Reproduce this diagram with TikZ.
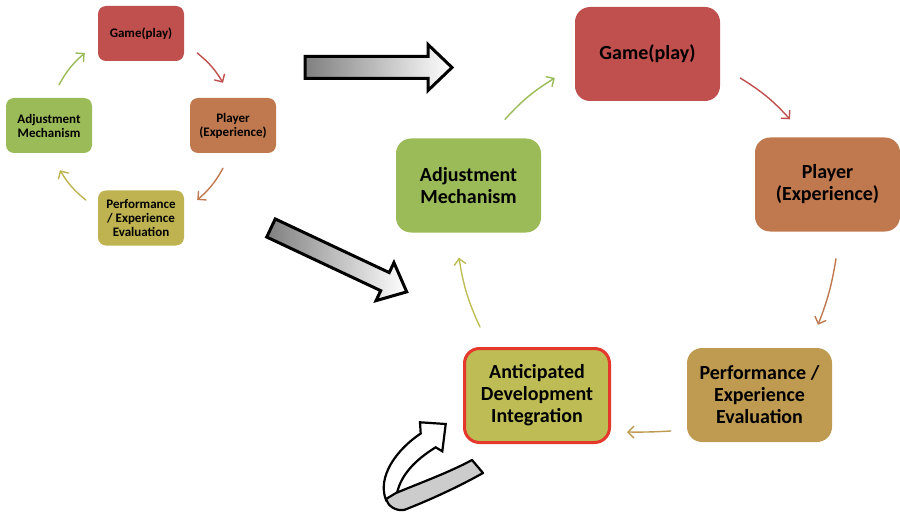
\documentclass[tikz,border=0pt]{standalone}
\usepackage{fontspec}
\setmainfont{Carlito}
\usetikzlibrary{arrows.meta}

\definecolor{cRed}{RGB}{192,80,77}
\definecolor{cOrange}{RGB}{192,121,79}
\definecolor{cGreen}{RGB}{155,187,89}
\definecolor{cOlive}{RGB}{190,179,80}
\definecolor{cGold}{RGB}{191,155,82}
\definecolor{cYellow}{RGB}{190,189,85}
\definecolor{cBorder}{RGB}{228,56,44}

\begin{document}
\begin{tikzpicture}[x=1pt,y=-1pt,
  smallbox/.style={rounded corners=8pt, minimum width=86pt, minimum height=55pt,
    align=center, inner sep=0pt, text=black,
    font=\bfseries\fontsize{13}{14}\selectfont},
  bigbox/.style={rounded corners=15pt, minimum width=145pt, minimum height=94pt,
    align=center, inner sep=0pt, text=black,
    font=\bfseries\fontsize{20}{22}\selectfont},
  conn/.style={line width=1.4pt, line cap=round,
    -{Straight Barb[length=6pt,width=12pt,line width=1.4pt]}},
  blockarrow/.style={draw=black, line width=3pt, line join=miter,
    left color=black!50, right color=white}]
\useasboundingbox (0,0) rectangle (900,516);

% --- small cycle ---
\node[smallbox, fill=cRed]    (sg) at (141,33.5)  {Game(play)};
\node[smallbox, fill=cOrange] (sp) at (233,125.5) {Player\\(Experience)};
\node[smallbox, fill=cOlive]  (se) at (141,218)   {Performance\\/ Experience\\Evaluation};
\node[smallbox, fill=cGreen]  (sa) at (49,125.5)  {Adjustment\\Mechanism};

\draw[conn, cGreen]  ([shift={(10,-13)}]sa.north) to[bend left=10] ([shift={(-13,19.5)}]sg.west);
\draw[conn, cRed]    ([shift={(13,19.5)}]sg.east) to[bend left=10] ([shift={(-10,-15)}]sp.north);
\draw[conn, cOrange] ([shift={(-10,15)}]sp.south) to[bend left=10] ([shift={(13,-18)}]se.east);
\draw[conn, cOlive]  ([shift={(-12,-18)}]se.west) to[bend left=10] ([shift={(11,17)}]sa.south);

% --- large cycle ---
\node[bigbox, fill=cRed]    (bg) at (647.5,54)   {Game(play)};
\node[bigbox, fill=cOrange] (bp) at (827.5,184.5) {Player\\(Experience)};
\node[bigbox, fill=cGold]   (be) at (759.5,395)  {Performance /\\Experience\\Evaluation};
\node[bigbox, fill=cYellow, draw=cBorder, line width=3pt] (bi) at (537,395.5)
  {Anticipated\\Development\\Integration};
\node[bigbox, fill=cGreen]  (ba) at (468.5,185.5) {Adjustment\\Mechanism};

\draw[conn, cGreen]  ([shift={(36.5,-19)}]ba.north) to[bend left=8] ([shift={(-20,24)}]bg.west);
\draw[conn, cRed]    ([shift={(20,24)}]bg.east) to[bend left=8] ([shift={(-37.5,-18)}]bp.north);
\draw[conn, cOrange] ([shift={(8.5,27)}]bp.south) to[bend left=6] ([shift={(58.5,-23)}]be.north);
\draw[conn, cGold]   ([shift={(-16,36)}]be.west) to[bend left=2] ([shift={(16,36.5)}]bi.east);
\draw[conn, cYellow] ([shift={(-57,-20)}]bi.north) to[bend left=8] ([shift={(-9.5,25)}]ba.south);

% --- block arrows between the two cycles ---
\begin{scope}[shift={(305,67.5)}]
  \path[blockarrow] (0,-11) -- (123,-11) -- (123,-23) -- (147,0) -- (123,23)
    -- (123,11) -- (0,11) -- cycle;
\end{scope}
\begin{scope}[shift={(271,228)}, rotate=-25.2]
  \path[blockarrow] (0,-10) -- (126,-10) -- (126,-21) -- (150,0) -- (126,21)
    -- (126,10) -- (0,10) -- cycle;
\end{scope}

% --- curled arrow feeding back into the integration step ---
\draw[fill=white, line width=2.2pt, line join=miter]
  (386,500) .. controls (377,477) and (396,450) .. (420.7,433.5)
  -- (420,422.3) -- (445.7,424) -- (442.3,451.3) -- (435.7,447.3)
  .. controls (415,460) and (401,475) .. (397,493) -- cycle;
\draw[fill=black!20, line width=2.2pt, line join=round]
  (396,493) .. controls (420,483) and (450,472) .. (472,460) -- (483,473)
  .. controls (460,486) and (430,500) .. (404,510)
  .. controls (395,511) and (388,506) .. (386,499) -- cycle;
\end{tikzpicture}
\end{document}
